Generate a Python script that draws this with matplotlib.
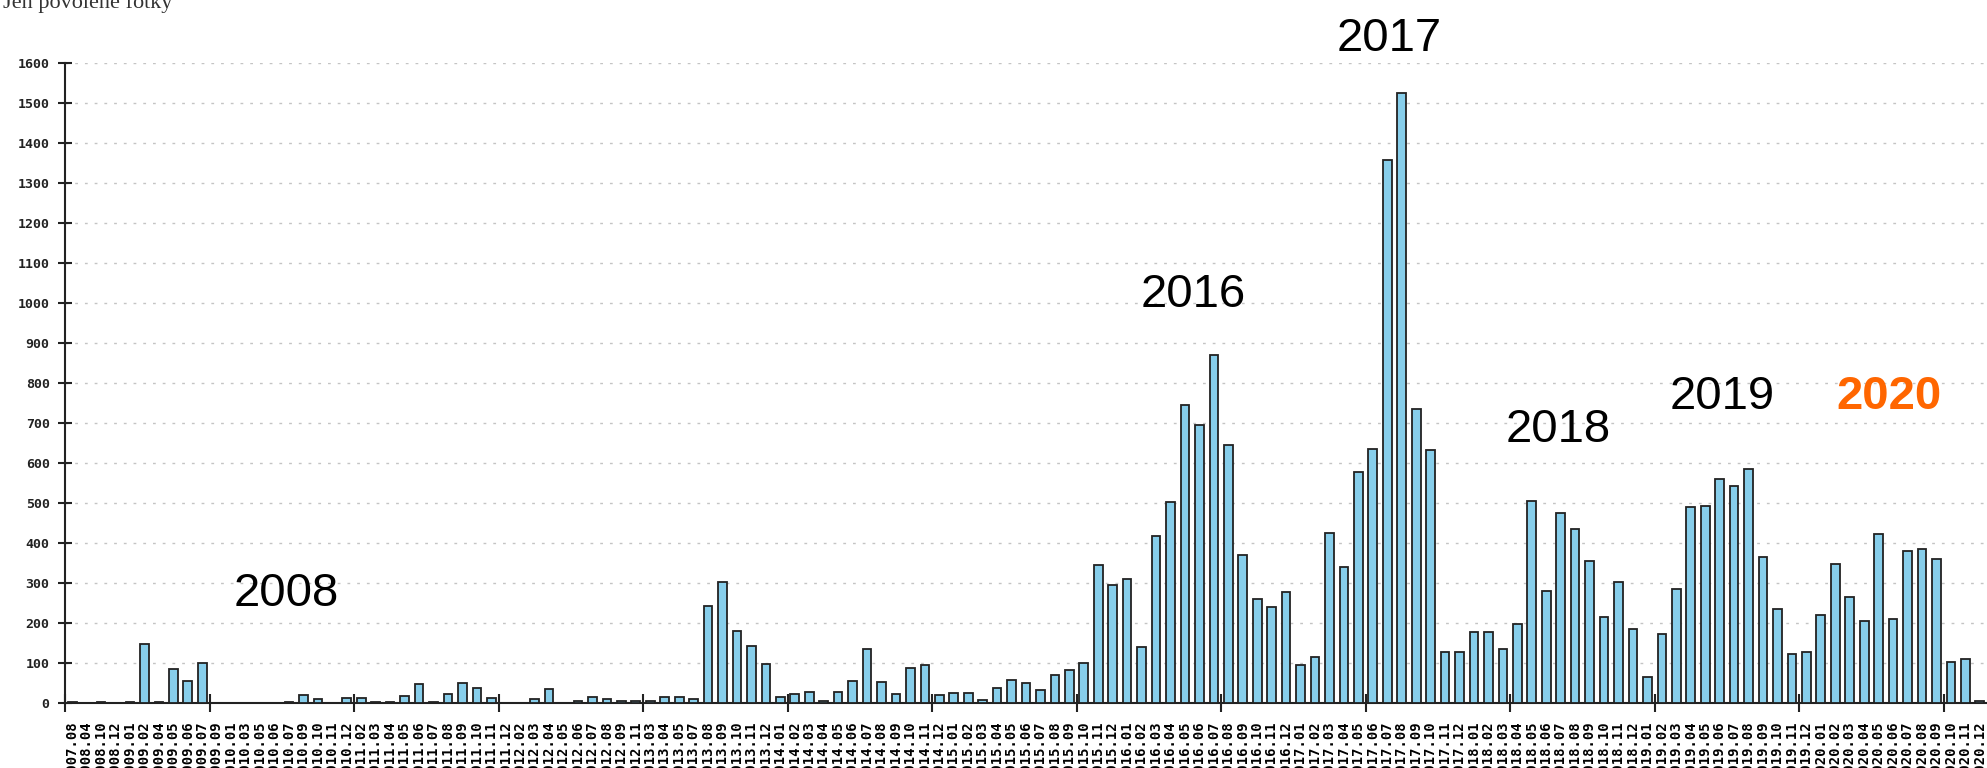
import matplotlib.pyplot as plt
import numpy as np

# month labels (only months that appear in the source chart)
months = [
    "2007.08", "2008.04", "2008.10", "2008.12", "2009.01", "2009.02", "2009.04",
    "2009.05", "2009.06", "2009.07", "2009.09", "2010.01", "2010.03", "2010.05",
    "2010.06", "2010.07", "2010.09", "2010.10", "2010.11", "2010.12", "2011.02",
    "2011.03", "2011.04", "2011.05", "2011.06", "2011.07", "2011.08", "2011.09",
    "2011.10", "2011.11", "2011.12", "2012.02", "2012.03", "2012.04", "2012.05",
    "2012.06", "2012.07", "2012.08", "2012.09", "2012.11", "2013.03", "2013.04",
    "2013.05", "2013.07", "2013.08", "2013.09", "2013.10", "2013.11", "2013.12",
    "2014.01", "2014.02", "2014.03", "2014.04", "2014.05", "2014.06", "2014.07",
    "2014.08", "2014.09", "2014.10", "2014.11", "2014.12",
    "2015.01", "2015.02", "2015.03", "2015.04", "2015.05", "2015.06", "2015.07",
    "2015.08", "2015.09", "2015.10", "2015.11", "2015.12",
    "2016.01", "2016.02", "2016.03", "2016.04", "2016.05", "2016.06", "2016.07",
    "2016.08", "2016.09", "2016.10", "2016.11", "2016.12",
    "2017.01", "2017.02", "2017.03", "2017.04", "2017.05", "2017.06", "2017.07",
    "2017.08", "2017.09", "2017.10", "2017.11", "2017.12",
    "2018.01", "2018.02", "2018.03", "2018.04", "2018.05", "2018.06", "2018.07",
    "2018.08", "2018.09", "2018.10", "2018.11", "2018.12",
    "2019.01", "2019.02", "2019.03", "2019.04", "2019.05", "2019.06", "2019.07",
    "2019.08", "2019.09", "2019.10", "2019.11", "2019.12",
    "2020.01", "2020.02", "2020.03", "2020.04", "2020.05", "2020.06", "2020.07",
    "2020.08", "2020.09", "2020.10", "2020.11", "2020.12",
]

photos = [
    3, 0, 3, 0, 3, 147, 3, 84, 54, 100,
    0, 0, 0, 0, 0, 3, 21, 9, 0, 13,
    13, 3, 3, 18, 47, 3, 22, 51, 38, 13,
    0, 0, 10, 35, 0, 5, 14, 10, 5, 5,
    5, 14, 14, 10, 243, 302, 181, 143, 97,
    14, 22, 27, 5, 27, 56, 135, 52, 22, 87, 96, 21,
    25, 25, 8, 37, 58, 50, 33, 71, 83, 100, 346, 296,
    309, 141, 417, 503, 744, 694, 869, 644, 369, 261, 239, 277,
    95, 115, 424, 340, 577, 636, 1358, 1525, 735, 632, 128, 128,
    177, 177, 136, 198, 505, 280, 476, 435, 356, 214, 302, 186,
    64, 172, 286, 490, 493, 559, 543, 585, 364, 235, 123, 127,
    220, 347, 264, 206, 423, 210, 380, 385, 360, 102, 109, 6,
]

# year captions: (text, x position in bars, y value)
years = ["2008", "2016", "2017", "2018", "2019", "2020"]
year_x = [14.8, 77.6, 91.1, 102.8, 114.2, 125.7]
year_y = [273, 1020, 1660, 682, 765, 765]

fig = plt.figure(figsize=(19.87, 7.68), dpi=100)
ax = fig.add_axes([65 / 1987, 65 / 768, 1 - 65 / 1987, 640 / 768])

x = np.arange(len(photos))
ax.bar(x, photos, width=0.6, color="#87ceeb", edgecolor="#222222", linewidth=1.3, zorder=3)

ax.set_xlim(-0.5, len(photos) - 0.5)
ax.set_ylim(0, 1600)

# y axis
ax.set_yticks(np.arange(0, 1700, 100))
ax.tick_params(axis="y", direction="inout", length=10, width=1.5, color="#222222",
               labelsize=9.5, pad=6, labelcolor="#222222")
for lab in ax.get_yticklabels():
    lab.set_family("DejaVu Sans Mono")
    lab.set_fontweight("bold")
ax.yaxis.grid(True, color="#c4c4c4", linewidth=1, linestyle=(0, (2, 5)))
ax.set_axisbelow(True)

# x axis: labels on every bar, marks every 10 bars
ax.set_xticks(np.arange(-0.5, len(photos), 10))
ax.set_xticklabels([])
ax.set_xticks(x, months, minor=True)
ax.tick_params(axis="x", which="major", direction="inout", length=13, width=1.5, color="#222222")
ax.tick_params(axis="x", which="minor", length=0, pad=13, labelsize=10)
for lab in ax.get_xticklabels(minor=True):
    lab.set_rotation(90)
    lab.set_family("DejaVu Sans Mono")
    lab.set_fontweight("bold")
    lab.set_va("top")

for s in ["top", "right"]:
    ax.spines[s].set_visible(False)
for s in ["left", "bottom"]:
    ax.spines[s].set_linewidth(1.5)
    ax.spines[s].set_color("#222222")

for t, xx, yy in zip(years, year_x, year_y):
    if t == "2020":
        ax.text(xx, yy, t, ha="center", va="center", fontsize=34, family="Liberation Sans",
                color="#ff6600", fontweight="bold")
    else:
        ax.text(xx, yy, t, ha="center", va="center", fontsize=34, family="Liberation Sans",
                color="black")

fig.text(3 / 1987, 1 - 8 / 768, "Jen povolené fotky", ha="left", va="baseline",
         fontsize=16, family="Liberation Serif", color="#333333")

fig.savefig("out.png", dpi=100)
